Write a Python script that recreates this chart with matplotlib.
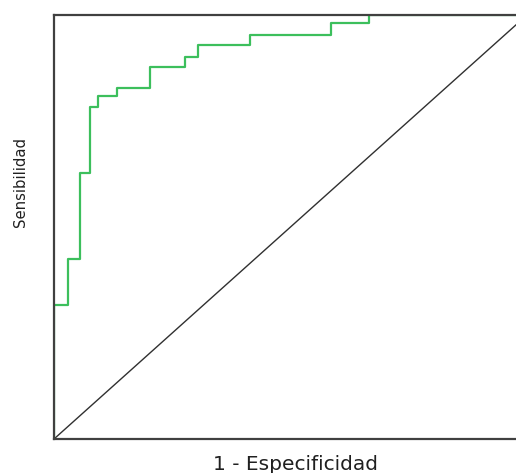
import matplotlib
matplotlib.use("Agg")
import matplotlib.pyplot as plt

# ROC steps (1 - specificity, sensitivity)
fpr = [0.0, 0.0, 0.029, 0.029, 0.055, 0.055, 0.077, 0.077, 0.094, 0.094,
       0.133, 0.133, 0.203, 0.203, 0.276, 0.276, 0.305, 0.305, 0.415, 0.415,
       0.585, 0.585, 0.666, 0.666, 1.0]
tpr = [0.0, 0.316, 0.316, 0.425, 0.425, 0.628, 0.628, 0.784, 0.784, 0.810,
       0.810, 0.829, 0.829, 0.877, 0.877, 0.902, 0.902, 0.929, 0.929, 0.954,
       0.954, 0.982, 0.982, 1.0, 1.0]
diag = [0.0, 1.0]

fig = plt.figure(figsize=(5.16, 4.73), dpi=100)
W, H = 516, 473
# axes box runs a bit past the right edge of the picture
ax = fig.add_axes([54 / W, (H - 439) / H, 473 / W, 424 / H])

ax.plot(diag, diag, color="#303030", linewidth=1.0)
ax.plot(fpr, tpr, color="#3cbf5c", linewidth=1.6)

ax.set_xlim(0, 1)
ax.set_ylim(0, 1)
ax.set_xticks([])
ax.set_yticks([])
for s in ax.spines.values():
    s.set_color("#404040")
    s.set_linewidth(1.6)

fig.text(295.5 / W, 3.5 / H, "1 - Especificidad", ha="center", va="baseline",
         fontsize=14.5, color="#202020")
fig.text(20.5 / W, (H - 182) / H, "Sensibilidad", ha="center", va="center",
         rotation=90, fontsize=10.7, color="#202020")

fig.savefig("out.png", dpi=100)
